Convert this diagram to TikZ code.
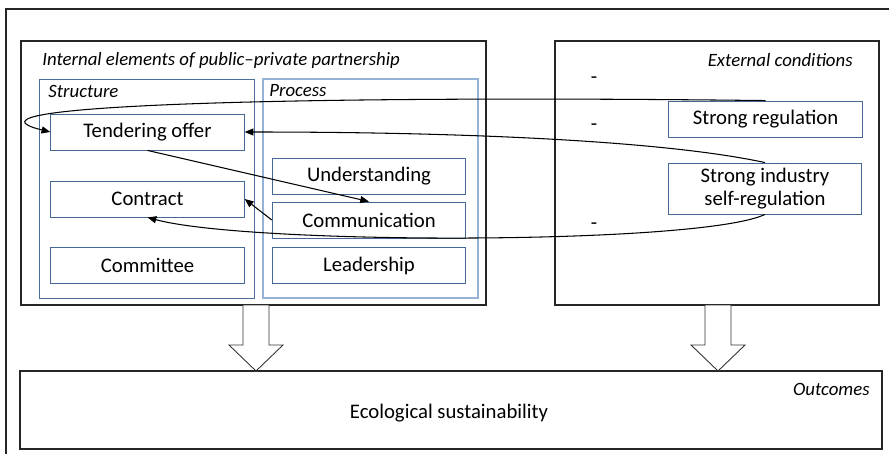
\documentclass[tikz,border=0pt]{standalone}
\usepackage{fontspec}
\setmainfont{Carlito}
\usetikzlibrary{arrows.meta}
\definecolor{elemblue}{RGB}{70,104,150}
\definecolor{strucblue}{RGB}{79,110,160}
\definecolor{procblue}{RGB}{149,179,215}
\tikzset{
  elem/.style={draw=elemblue, line width=0.5pt, minimum width=3.87cm, minimum height=0.72cm, inner sep=1pt, font=\fontsize{11.8}{13}\selectfont, align=center},
  frame/.style={draw=black!85, line width=0.6pt},
  lbl/.style={font=\fontsize{10.7}{12}\selectfont\itshape, inner sep=0pt},
  conn/.style={line width=0.6pt, -{Triangle[length=5pt,width=4pt]}},
  blockarrow/.style={draw=black!80, fill=white, line width=0.5pt}
}

\begin{document}
\begin{tikzpicture}[x=0.02cm, y=-0.02cm]
			%%%%% START %%%%%
			\useasboundingbox (0, 0) rectangle (889, 453);
			\draw[frame] (6, 9) rectangle (890, 455);
			
			%%%%% containers %%%%%
			\draw[frame] (21, 41) rectangle (486, 305);
			\draw[frame] (555, 41) rectangle (879, 305);
			\draw[draw=strucblue, line width=0.5pt] (39, 79) rectangle (254, 298);
			\draw[draw=procblue, line width=0.9pt] (263, 79) rectangle (478, 298);
			\draw[frame] (20, 371) rectangle (882, 449);
			
			\node[lbl, anchor=west] (intlbl) at (42, 60) {Internal elements of public\textendash private partnership};
			\node[lbl, anchor=east] (extlbl) at (853, 60) {External conditions};
			\node[lbl, anchor=west] (struclbl) at (48, 91) {Structure};
			\node[lbl, anchor=west] (proclbl) at (269, 91) {Process};
			\node[lbl, anchor=east] (outlbl) at (870, 389) {Outcomes};
			
			%%%%% elements %%%%%
			\node[elem] (tender) at (147.5, 132) {Tendering offer};
			\node[elem] (contract) at (147.5, 199) {Contract};
			\node[elem] (committee) at (147.5, 265.5) {Committee};
			\node[elem] (underst) at (369, 176) {Understanding};
			\node[elem] (comm) at (369, 220) {Communication};
			\node[elem] (leader) at (369, 265.5) {Leadership};
			\node[elem] (reg) at (765.5, 119) {Strong regulation};
			\node[elem, minimum height=1.02cm] (ind) at (765, 188.5) {Strong industry\\self-regulation};
			\node[font=\fontsize{11.8}{13}\selectfont] (eco) at (449, 413) {Ecological sustainability};
			
			\foreach \y/\nm in {80/da, 127/db, 226/dc}
			  \node[font=\fontsize{11.8}{13}\selectfont, inner sep=0pt] (\nm) at (594, \y) {-};
			
			%%%%% connectors %%%%%
			\draw[conn] (reg.north) .. controls (300, 95) and (-60, 105) .. (tender.west);
			\draw[conn] (ind.north) .. controls (670, 142) and (480, 132) .. (tender.east);
			\draw[conn] (ind.south) .. controls (700, 245) and (250, 245) .. (contract.south);
			\draw[conn] (tender.south) -- (comm.north);
			\draw[conn] (comm.west) -- (contract.east);
			
			%%%%% block arrows %%%%%
			\draw[blockarrow] (243, 305) -- (269, 305) -- (269, 345) -- (283, 345) -- (256, 371) -- (229, 345) -- (243, 345) -- cycle;
			\draw[blockarrow] (705, 305) -- (731, 305) -- (731, 345) -- (745, 345) -- (718, 371) -- (691, 345) -- (705, 345) -- cycle;
			%%%%% END %%%%%
\end{tikzpicture}
\end{document}
